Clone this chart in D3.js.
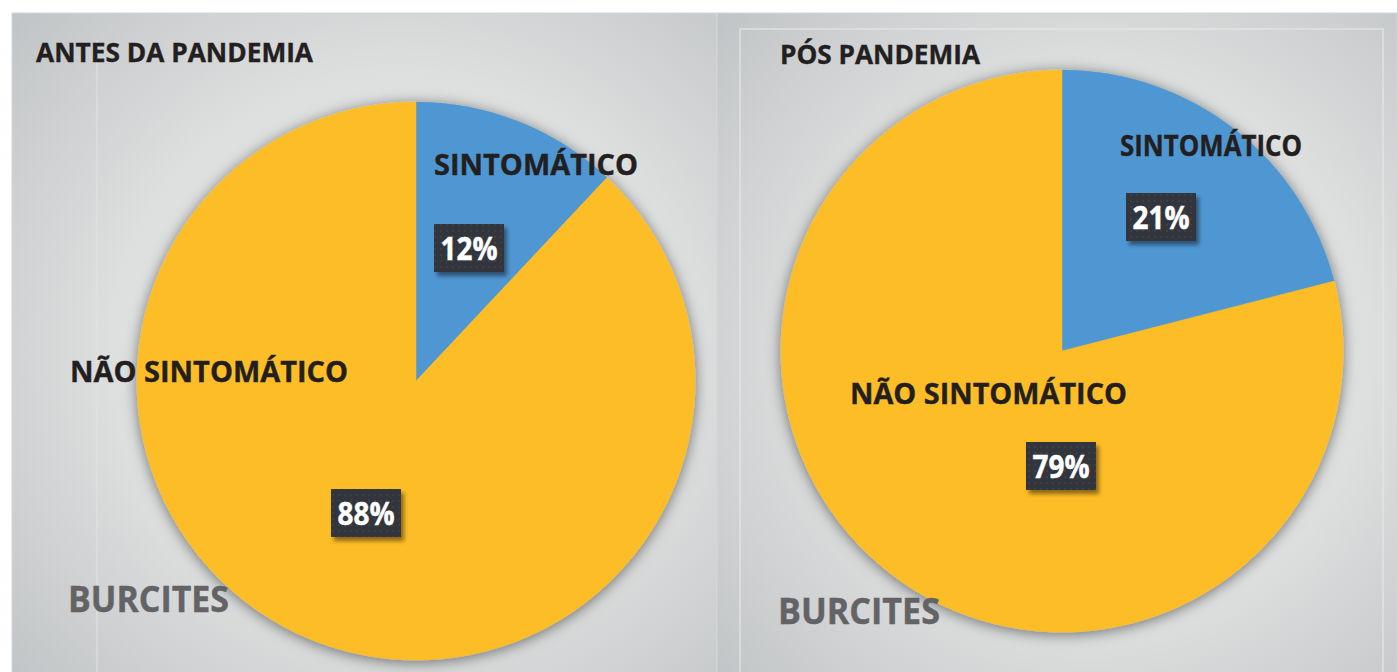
<!DOCTYPE html>
<html>
<head>
<meta charset="utf-8">
<script src="https://cdn.jsdelivr.net/npm/d3@7"></script>
<style>
  body { margin: 0; background: #fff; }
  svg { display: block; }
  text { font-family: "Open Sans", "DejaVu Sans", sans-serif; font-weight: 700; }
</style>
</head>
<body>
<div id="chart"></div>
<script>
// data
var categories = ["SINTOMÁTICO", "NÃO SINTOMÁTICO"];
var antes = [12, 88];
var pos = [21, 79];
var titles = ["ANTES DA PANDEMIA", "PÓS PANDEMIA"];
var subtitle = "BURCITES";
var colors = ["#4f97d3", "#fdbd27"];

var width = 1397, height = 672;

var svg = d3.select("#chart").append("svg")
  .attr("width", width)
  .attr("height", height);

var defs = svg.append("defs");

// background gradient for the panels
var grad = defs.append("radialGradient")
  .attr("id", "bg")
  .attr("cx", "55%").attr("cy", "50%").attr("r", "75%");
grad.append("stop").attr("offset", "0%").attr("stop-color", "#ebecec");
grad.append("stop").attr("offset", "55%").attr("stop-color", "#dddede");
grad.append("stop").attr("offset", "100%").attr("stop-color", "#c0c3c5");

var shadow = defs.append("filter").attr("id", "pieshadow")
  .attr("x", "-20%").attr("y", "-20%").attr("width", "140%").attr("height", "140%");
shadow.append("feDropShadow")
  .attr("dx", 0).attr("dy", 2).attr("stdDeviation", 7)
  .attr("flood-color", "#000").attr("flood-opacity", 0.5);

var boxshadow = defs.append("filter").attr("id", "boxshadow")
  .attr("x", "-20%").attr("y", "-20%").attr("width", "150%").attr("height", "150%");
boxshadow.append("feDropShadow")
  .attr("dx", 3).attr("dy", 4).attr("stdDeviation", 2)
  .attr("flood-color", "#000").attr("flood-opacity", 0.45);

// dotted texture for the percent boxes
var pat = defs.append("pattern").attr("id", "dots")
  .attr("width", 6).attr("height", 6).attr("patternUnits", "userSpaceOnUse");
pat.append("rect").attr("width", 6).attr("height", 6).attr("fill", "#30353b");
pat.append("circle").attr("cx", 3).attr("cy", 3).attr("r", 1.1).attr("fill", "#3d434a");

// layout of the two panels
var panels = [
  { values: antes, title: titles[0], x: 12, y: 13, w: 705, h: 672,
    cx: 416, cy: 381, r: 279,
    titlePos: [36, 62, 277], subPos: [68, 612, 161],
    catPos: [[18, -206, 204], [-346, 1, 278]],
    boxPos: [[53, -133], [-50, 132]], inner: null },
  { values: pos, title: titles[1], x: 717, y: 13, w: 680, h: 672,
    cx: 1062, cy: 351, r: 281,
    titlePos: [780, 64, 200], subPos: [778, 624, 162],
    catPos: [[58, -195, 182], [-212, 53, 277]],
    boxPos: [[99, -134], [-1, 115]], inner: [740, 29, 1383] }
];

var pie = d3.pie().sort(null).value(function(d) { return d; });

panels.forEach(function(p, pi) {
  var g = svg.append("g");

  g.append("rect")
    .attr("x", p.x).attr("y", p.y)
    .attr("width", p.w).attr("height", p.h)
    .attr("fill", "url(#bg)")
    .attr("stroke", "#d4d6d7").attr("stroke-width", 1);

  if (p.inner) {
    g.append("rect")
      .attr("x", p.inner[0]).attr("y", p.inner[1])
      .attr("width", p.inner[2] - p.inner[0]).attr("height", 700)
      .attr("fill", "none")
      .attr("stroke", "#e6e7e7").attr("stroke-width", 1.2);
  } else {
    g.append("line")
      .attr("x1", 97).attr("x2", 97).attr("y1", 40).attr("y2", 672)
      .attr("stroke", "#e2e3e3").attr("stroke-width", 1);
  }

  var arc = d3.arc().innerRadius(0).outerRadius(p.r);
  var slices = g.append("g")
    .attr("transform", "translate(" + p.cx + "," + p.cy + ")")
    .attr("filter", "url(#pieshadow)");

  slices.selectAll("path")
    .data(pie(p.values))
    .enter().append("path")
    .attr("d", arc)
    .attr("fill", function(d, i) { return colors[i]; })
    .attr("stroke", function(d, i) { return colors[i]; })
    .attr("stroke-width", 0.5);

  // title
  g.append("text")
    .attr("x", p.titlePos[0]).attr("y", p.titlePos[1])
    .attr("textLength", p.titlePos[2]).attr("lengthAdjust", "spacingAndGlyphs")
    .style("font-size", "27px").attr("fill", "#231f20")
    .attr("stroke", "#231f20").attr("stroke-width", 0.4)
    .text(p.title);

  // subtitle
  g.append("text")
    .attr("x", p.subPos[0]).attr("y", p.subPos[1])
    .attr("textLength", p.subPos[2]).attr("lengthAdjust", "spacingAndGlyphs")
    .style("font-size", "36px").attr("fill", "#636365")
    .attr("stroke", "#636365").attr("stroke-width", 0.4)
    .text(subtitle);

  // category labels
  categories.forEach(function(c, i) {
    g.append("text")
      .attr("x", p.cx + p.catPos[i][0]).attr("y", p.cy + p.catPos[i][1])
      .attr("textLength", p.catPos[i][2]).attr("lengthAdjust", "spacingAndGlyphs")
      .style("font-size", "29px").attr("fill", "#231f20")
      .attr("stroke", "#231f20").attr("stroke-width", 0.4)
      .text(c);
  });

  // percent boxes
  var total = d3.sum(p.values);
  p.values.forEach(function(v, i) {
    var bx = p.cx + p.boxPos[i][0], by = p.cy + p.boxPos[i][1];
    var bw = 70, bh = 48;
    g.append("rect")
      .attr("x", bx - bw / 2).attr("y", by - bh / 2)
      .attr("width", bw).attr("height", bh)
      .attr("fill", "url(#dots)")
      .attr("filter", "url(#boxshadow)");
    g.append("text")
      .attr("x", bx).attr("y", by + 12)
      .attr("text-anchor", "middle")
      .attr("textLength", 57).attr("lengthAdjust", "spacingAndGlyphs")
      .style("font-size", "32px").attr("fill", "#ffffff")
      .attr("stroke", "#ffffff").attr("stroke-width", 0.5)
      .text(d3.format(".0%")(v / total));
  });
});
</script>
</body>
</html>
